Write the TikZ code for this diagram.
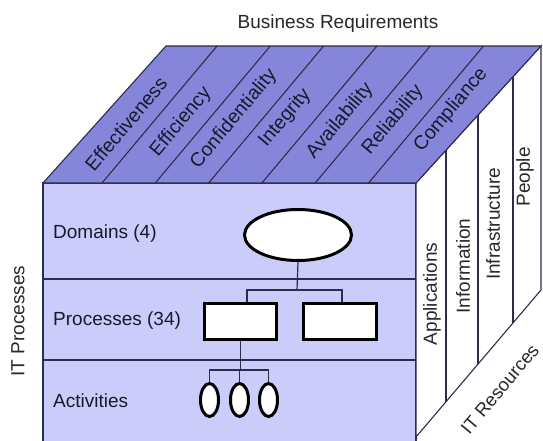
\documentclass[tikz,border=0pt]{standalone}
\usepackage{fontspec}
\setmainfont{Liberation Sans}
\usetikzlibrary{shapes.geometric,calc}
\definecolor{topc}{RGB}{133,133,218}
\definecolor{frontc}{RGB}{204,204,250}
\definecolor{edgec}{RGB}{45,45,75}
\definecolor{txtc}{RGB}{25,25,45}
\definecolor{titlec}{RGB}{40,40,40}
\begin{document}
\begin{tikzpicture}[x=1pt,y=-1pt,
 edge/.style={draw=edgec,line width=1.1pt},
 lbl/.style={font=\fontsize{19}{22}\selectfont,text=txtc,inner sep=0pt},
 toplbl/.style={font=\fontsize{19.5}{22}\selectfont,text=txtc,inner sep=0pt,rotate=50},
 sidelbl/.style={font=\fontsize{19}{22}\selectfont,text=titlec,inner sep=0pt,rotate=90},
 conn/.style={draw=edgec,line width=1.2pt},
 boxnode/.style={draw=black,line width=3.5pt,fill=white,inner sep=0pt,minimum width=72pt,minimum height=36pt},
 bigoval/.style={ellipse,draw=black,line width=3pt,fill=white,inner sep=0pt,minimum width=107pt,minimum height=51pt},
 smalloval/.style={ellipse,draw=black,line width=3pt,fill=white,inner sep=0pt,minimum width=18pt,minimum height=33pt},
]
\useasboundingbox (0,0) rectangle (543,441);
\coordinate (FL) at (43,183);
\coordinate (FR) at (416,183);
\coordinate (BL) at (166,46);
\coordinate (BR) at (541,46);
\coordinate (SB) at (416,437);
\coordinate (SBR) at (541,290);
\coordinate (FBL) at (43,441);
\coordinate (FBR) at (416,441);
% front face
\fill[frontc] (FL) rectangle (FBR);
\draw[edge] (FBL) -- (FL) -- (FR) -- (FBR);
\draw[edge] (43,279) -- (416,279);
\draw[edge] (43,360) -- (416,360);
% side face
\filldraw[fill=white,edge] (FR) -- (BR) -- (SBR) -- (SB) -- cycle;
\foreach \t in {0.24,0.496,0.776}
  \draw[edge] ($(FR)!\t!(BR)$) -- ($(SB)!\t!(SBR)$);
% top face
\filldraw[fill=topc,edge] (FL) -- (BL) -- (BR) -- (FR) -- cycle;
\foreach \k in {0,...,5}
  \draw[edge] ({102+53.3*\k},183) -- ({217+53.3*\k},46);
% titles
\node[font=\fontsize{19}{22}\selectfont,text=titlec,inner sep=0pt] (br) at (338,24) {Business Requirements};
\node[sidelbl] (itp) at (18,321) {IT Processes};
\node[font=\fontsize{18.5}{22}\selectfont,text=titlec,inner sep=0pt,rotate=50] (itr) at (500,389) {IT Resources};
% top labels
\node[toplbl] (l1) at (126,124) {Effectiveness};
\node[toplbl] (l2) at (181,122) {Efficiency};
\node[toplbl] (l3) at (234,119) {Confidentiality};
\node[toplbl] (l4) at (285,118) {Integrity};
\node[toplbl] (l5) at (340,121) {Availability};
\node[toplbl] (l6) at (393,120) {Reliability};
\node[toplbl] (l7) at (451,110) {Compliance};
% side labels
\node[sidelbl] (s1) at (432,294) {Applications};
\node[sidelbl] (s2) at (463,266) {Information};
\node[sidelbl] (s3) at (493,224) {Infrastructure};
\node[sidelbl] (s4) at (525,177) {People};
% front labels
\node[lbl,anchor=west] (d) at (53,234) {Domains (4)};
\node[lbl,anchor=west] (p) at (53,321) {Processes (34)};
\node[lbl,anchor=west] (a) at (53,401) {Activities};
% org chart
\node[bigoval] (dom) at (298,235) {};
\node[boxnode] (b1) at (240.5,321.5) {};
\node[boxnode,minimum width=73pt] (b2) at (340,321.5) {};
\node[smalloval] (o1) at (209.5,400) {};
\node[smalloval] (o2) at (239.5,400) {};
\node[smalloval] (o3) at (268.5,400) {};
\coordinate (j1) at (297,290);
\coordinate (j2) at (240.5,370);
\draw[conn] (dom.south) -- (j1);
\draw[conn] ([xshift=6.5pt]b1.north) |- (j1) -| ([xshift=2pt]b2.north);
\draw[conn] (b1.south) -- (j2);
\draw[conn] (o1.north) |- (j2) -| (o3.north);
\draw[conn] (o2.north) -- (o2.north |- j2);
\end{tikzpicture}
\end{document}
